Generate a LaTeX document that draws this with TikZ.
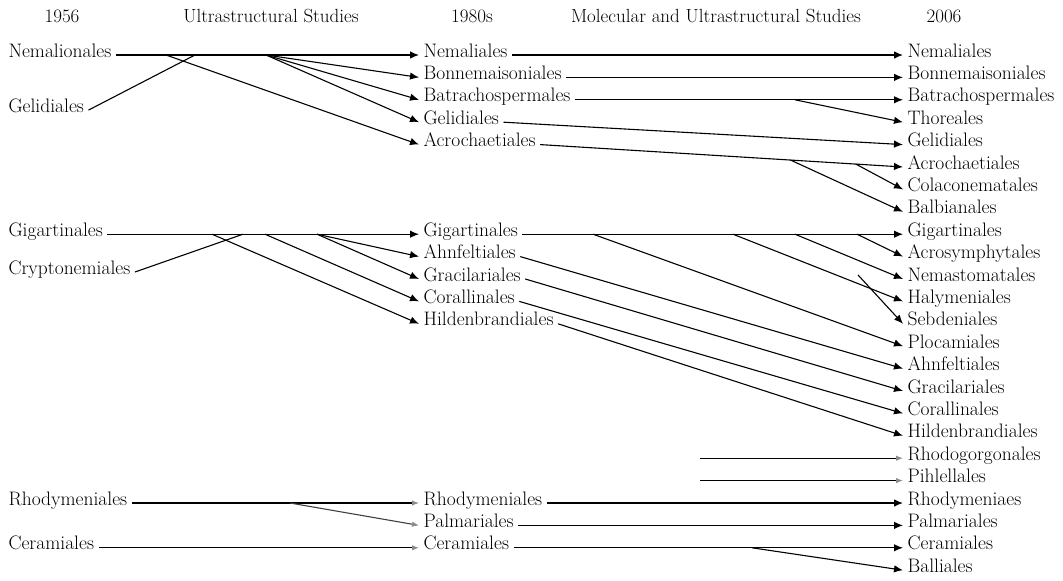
\documentclass[tikz,border=0pt]{standalone}
\usetikzlibrary{arrows.meta}
\begin{document}
\begin{tikzpicture}[x=1pt,y=-22.4pt,line width=1.1pt,
  lbl/.style={anchor=mid west,inner xsep=4pt,inner ysep=0pt,font=\fontsize{19.5}{21}\selectfont},
  hd/.style={anchor=base,font=\fontsize{19}{21}\selectfont},
  link/.style={-{Latex[length=9pt,width=7.5pt]}},
  fadelink/.style={-{Latex[length=7pt,width=5.5pt,color=black!45]}}]
\useasboundingbox (0,-2.455) rectangle (1063,23.482);
% headings
\node[hd] (h1) at (62,-1.43) {1956};
\node[hd] (h2) at (271,-1.43) {Ultrastructural Studies};
\node[hd] (h3) at (472,-1.43) {1980s};
\node[hd] (h4) at (716,-1.43) {Molecular and Ultrastructural Studies};
\node[hd] (h5) at (944,-1.43) {2006};
% 1956
\node[lbl] (a-nem) at (4,0) {Nemalionales};
\node[lbl] (a-gel) at (4,2.46) {Gelidiales};
\node[lbl] (a-gig) at (4,8) {Gigartinales};
\node[lbl] (a-cry) at (4,9.69) {Cryptonemiales};
\node[lbl] (a-rho) at (4,20) {Rhodymeniales};
\node[lbl] (a-cer) at (4,22) {Ceramiales};
% 1980s
\foreach \r/\n/\t in {0/nem/Nemaliales,1/bon/Bonnemaisoniales,2/bat/Batrachospermales,
  3/gel/Gelidiales,4/acr/Acrochaetiales,8/gig/Gigartinales,9/ahn/Ahnfeltiales,
  10/gra/Gracilariales,11/cor/Corallinales,12/hil/Hildenbrandiales,
  20/rho/Rhodymeniales,21/pal/Palmariales,22/cer/Ceramiales}
  \node[lbl] (b-\n) at (419,\r) {\t};
% 2006
\foreach \n/\t [count=\r from 0] in {nem/Nemaliales,bon/Bonnemaisoniales,bat/Batrachospermales,
  tho/Thoreales,gel/Gelidiales,acr/Acrochaetiales,col/Colaconematales,bal/Balbianales,
  gig/Gigartinales,acs/Acrosymphytales,nma/Nemastomatales,hal/Halymeniales,
  seb/Sebdeniales,plo/Plocamiales,ahn/Ahnfeltiales,gra/Gracilariales,cor/Corallinales,
  hil/Hildenbrandiales,rgo/Rhodogorgonales,pih/Pihlellales,rhy/Rhodymeniaes,
  pal/Palmariales,cer/Ceramiales,bll/Balliales}
  \node[lbl] (c-\n) at (903,\r) {\t};
% forks
\coordinate (fkGel) at (195,0);
\coordinate (fkAcr) at (166,0);
\coordinate (fkBon) at (266,0);
\coordinate (fkTho) at (795,2);
\coordinate (fkCry) at (243,8);
\coordinate (fkHil) at (212,8);
\coordinate (fkCor) at (265,8);
\coordinate (fkAhn) at (317,8);
\coordinate (fkPlo) at (593,8);
\coordinate (fkHal) at (733,8);
\coordinate (fkNma) at (795,8);
\coordinate (fkAcs) at (857,8);
\coordinate (fkSeb) at (858,9.82);
\coordinate (fkRgo) at (700,18);
\coordinate (fkPih) at (700,19);
\coordinate (fkPal) at (290,20);
\coordinate (fkBll) at (752,22);
% 1956 -> 1980s
\draw[link] (a-nem.mid east) -- (b-nem.mid west);
\draw (a-gel.mid east) -- (fkGel);
\draw[link] (fkAcr) -- (b-acr.mid west);
\foreach \n in {bon,bat,gel} \draw[link] (fkBon) -- (b-\n.mid west);
\draw[link] (a-gig.mid east) -- (b-gig.mid west);
\draw (a-cry.mid east) -- (fkCry);
\draw[link] (fkHil) -- (b-hil.mid west);
\draw[link] (fkCor) -- (b-cor.mid west);
\foreach \n in {ahn,gra} \draw[link] (fkAhn) -- (b-\n.mid west);
\draw[fadelink] (a-rho.mid east) -- (b-rho.mid west);
\draw[fadelink,black!75] (fkPal) -- (b-pal.mid west);
\draw[fadelink] (a-cer.mid east) -- (b-cer.mid west);
% 1980s -> 2006
\foreach \n in {nem,bon,bat,gel,gig,ahn,gra,cor,hil,pal,cer}
  \draw[link] (b-\n.mid east) -- (c-\n.mid west);
\draw[link] (fkTho) -- (c-tho.mid west);
\draw[link] (b-acr.mid east) -- coordinate[pos=.69](fkBal) coordinate[pos=.87](fkCol) (c-acr.mid west);
\draw[link] (fkCol) -- (c-col.mid west);
\draw[link] (fkBal) -- (c-bal.mid west);
\draw[link] (fkPlo) -- (c-plo.mid west);
\draw[link] (fkHal) -- (c-hal.mid west);
\draw[link] (fkNma) -- (c-nma.mid west);
\draw[link] (fkAcs) -- (c-acs.mid west);
\draw[link] (fkSeb) -- (c-seb.mid west);
\draw[fadelink] (fkRgo) -- (c-rgo.mid west);
\draw[fadelink] (fkPih) -- (c-pih.mid west);
\draw[link] (b-rho.mid east) -- (c-rhy.mid west);
\draw[link] (fkBll) -- (c-bll.mid west);
\end{tikzpicture}
\end{document}
